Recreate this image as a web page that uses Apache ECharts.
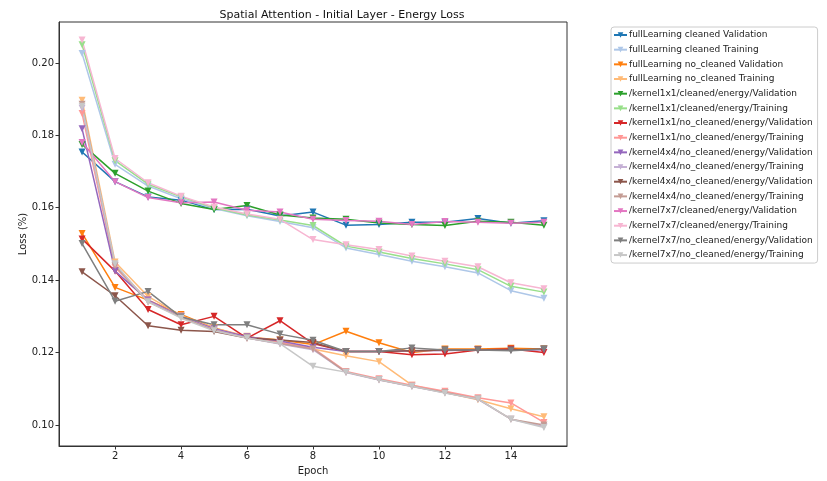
<!DOCTYPE html>
<html>
<head>
<meta charset="utf-8">
<script src="https://cdn.jsdelivr.net/npm/echarts@6/dist/echarts.min.js"></script>
<style>
  html, body { margin: 0; padding: 0; background: #fff; }
  #chart { width: 827px; height: 481px; }
</style>
</head>
<body>
<div id="chart"></div>
<script>
// Epochs along the x axis
const epochs = [1, 2, 3, 4, 5, 6, 7, 8, 9, 10, 11, 12, 13, 14, 15];
const xTicks = [2, 4, 6, 8, 10, 12, 14];
const yTicks = [0.10, 0.12, 0.14, 0.16, 0.18, 0.20];

// Loss per epoch for each run
const fullCleanedVal    = [0.1754, 0.1672, 0.1630, 0.1621, 0.1595, 0.1596, 0.1577, 0.1588, 0.1552, 0.1554, 0.1560, 0.1560, 0.1570, 0.1557, 0.1564];
const fullCleanedTrain  = [0.2026, 0.1720, 0.1660, 0.1625, 0.1598, 0.1578, 0.1562, 0.1545, 0.1489, 0.1471, 0.1452, 0.1437, 0.1420, 0.1371, 0.1350];
const fullNoCleanVal    = [0.1529, 0.1380, 0.1345, 0.1305, 0.1268, 0.1243, 0.1235, 0.1222, 0.1259, 0.1227, 0.1200, 0.1210, 0.1210, 0.1212, 0.1210];
const fullNoCleanTrain  = [0.1897, 0.1450, 0.1355, 0.1302, 0.1268, 0.1245, 0.1228, 0.1210, 0.1191, 0.1175, 0.1110, 0.1090, 0.1070, 0.1045, 0.1023];
const k1CleanedVal      = [0.1775, 0.1695, 0.1646, 0.1612, 0.1595, 0.1606, 0.1580, 0.1572, 0.1568, 0.1558, 0.1554, 0.1551, 0.1563, 0.1560, 0.1552];
const k1CleanedTrain    = [0.2050, 0.1730, 0.1665, 0.1630, 0.1600, 0.1580, 0.1566, 0.1551, 0.1494, 0.1478, 0.1460, 0.1445, 0.1429, 0.1383, 0.1367];
const k1NoCleanVal      = [0.1514, 0.1425, 0.1319, 0.1277, 0.1300, 0.1240, 0.1288, 0.1225, 0.1203, 0.1203, 0.1194, 0.1196, 0.1207, 0.1210, 0.1200];
const k1NoCleanTrain    = [0.1860, 0.1435, 0.1345, 0.1300, 0.1265, 0.1242, 0.1228, 0.1212, 0.1148, 0.1128, 0.1110, 0.1093, 0.1075, 0.1061, 0.1007];
const k4aNoCleanVal     = [0.1818, 0.1425, 0.1345, 0.1300, 0.1266, 0.1244, 0.1232, 0.1215, 0.1203, 0.1203, 0.1205, 0.1206, 0.1207, 0.1207, 0.1208];
const k4aNoCleanTrain   = [0.1875, 0.1442, 0.1342, 0.1298, 0.1263, 0.1240, 0.1224, 0.1208, 0.1145, 0.1124, 0.1106, 0.1089, 0.1071, 0.1016, 0.0996];
const k4bNoCleanVal     = [0.1423, 0.1357, 0.1274, 0.1262, 0.1258, 0.1240, 0.1235, 0.1228, 0.1203, 0.1203, 0.1205, 0.1207, 0.1207, 0.1207, 0.1210];
const k4bNoCleanTrain   = [0.1886, 0.1440, 0.1340, 0.1298, 0.1262, 0.1240, 0.1225, 0.1210, 0.1146, 0.1125, 0.1107, 0.1090, 0.1072, 0.1016, 0.1000];
const k7CleanedVal      = [0.1780, 0.1672, 0.1628, 0.1614, 0.1616, 0.1593, 0.1588, 0.1568, 0.1565, 0.1563, 0.1554, 0.1562, 0.1560, 0.1557, 0.1560];
const k7CleanedTrain    = [0.2063, 0.1736, 0.1669, 0.1632, 0.1602, 0.1583, 0.1568, 0.1512, 0.1498, 0.1485, 0.1467, 0.1452, 0.1437, 0.1393, 0.1376];
const k7NoCleanVal      = [0.1501, 0.1342, 0.1369, 0.1298, 0.1277, 0.1277, 0.1251, 0.1234, 0.1203, 0.1203, 0.1213, 0.1207, 0.1207, 0.1205, 0.1210];
const k7NoCleanTrain    = [0.1880, 0.1445, 0.1340, 0.1295, 0.1260, 0.1240, 0.1225, 0.1162, 0.1146, 0.1125, 0.1107, 0.1088, 0.1072, 0.1016, 0.0993];

const runs = [
  ['fullLearning cleaned Validation', fullCleanedVal, '#1f77b4'],
  ['fullLearning cleaned Training', fullCleanedTrain, '#aec7e8'],
  ['fullLearning no_cleaned Validation', fullNoCleanVal, '#ff7f0e'],
  ['fullLearning no_cleaned Training', fullNoCleanTrain, '#ffbb78'],
  ['/kernel1x1/cleaned/energy/Validation', k1CleanedVal, '#2ca02c'],
  ['/kernel1x1/cleaned/energy/Training', k1CleanedTrain, '#98df8a'],
  ['/kernel1x1/no_cleaned/energy/Validation', k1NoCleanVal, '#d62728'],
  ['/kernel1x1/no_cleaned/energy/Training', k1NoCleanTrain, '#ff9896'],
  ['/kernel4x4/no_cleaned/energy/Validation', k4aNoCleanVal, '#9467bd'],
  ['/kernel4x4/no_cleaned/energy/Training', k4aNoCleanTrain, '#c5b0d5'],
  ['/kernel4x4/no_cleaned/energy/Validation ', k4bNoCleanVal, '#8c564b'],
  ['/kernel4x4/no_cleaned/energy/Training ', k4bNoCleanTrain, '#c49c94'],
  ['/kernel7x7/cleaned/energy/Validation', k7CleanedVal, '#e377c2'],
  ['/kernel7x7/cleaned/energy/Training', k7CleanedTrain, '#f7b6d2'],
  ['/kernel7x7/no_cleaned/energy/Validation', k7NoCleanVal, '#7f7f7f'],
  ['/kernel7x7/no_cleaned/energy/Training', k7NoCleanTrain, '#c7c7c7']
];

const FONT = 'DejaVu Sans';
const chart = echarts.init(document.getElementById('chart'), null, { renderer: 'canvas' });

const series = runs.map(([name, values, color]) => ({
  name: name,
  type: 'line',
  data: epochs.map((e, i) => [e, values[i]]),
  symbol: 'triangle',
  symbolRotate: 180,
  symbolSize: 7,
  showSymbol: true,
  lineStyle: { width: 1.5, color: color },
  itemStyle: { color: color },
  emphasis: { disabled: true },
  animation: false
}));

chart.setOption({
  animation: false,
  backgroundColor: '#ffffff',
  title: {
    text: 'Spatial Attention - Initial Layer - Energy Loss',
    left: 337, top: 5, textAlign: 'center',
    textStyle: { fontFamily: FONT, fontSize: 11, fontWeight: 'normal', color: '#111' }
  },
  grid: {
    left: 59, right: 260, top: 22, bottom: 34,
    show: true, borderColor: '#333', borderWidth: 1, backgroundColor: 'transparent'
  },
  legend: {
    orient: 'vertical',
    left: 611, top: 27,
    itemWidth: 13, itemHeight: 7, itemGap: 4.67,
    padding: [3, 5, 3, 2],
    borderColor: '#cccccc', borderWidth: 1, borderRadius: 3,
    backgroundColor: '#fff',
    textStyle: { fontFamily: FONT, fontSize: 9, lineHeight: 10, color: '#222', padding: [0, 0, 0, -3] },
    data: runs.map(r => r[0]),
    formatter: n => n.trim()
  },
  xAxis: {
    type: 'value', min: 0.3, max: 15.7,
    name: 'Epoch', nameLocation: 'middle', nameGap: 20, nameMoveOverlap: false,
    nameTextStyle: { fontFamily: FONT, fontSize: 10, color: '#222' },
    axisLine: { show: true, onZero: false, lineStyle: { color: '#333' } },
    axisTick: { show: true, inside: false, length: 3.5, lineStyle: { color: '#333' }, customValues: xTicks },
    axisLabel: { fontFamily: FONT, fontSize: 10, color: '#222', margin: 5, customValues: xTicks },
    splitLine: { show: false }
  },
  yAxis: {
    type: 'value', min: 0.0942, max: 0.2113,
    name: 'Loss (%)', nameLocation: 'middle', nameGap: 31, nameRotate: 90, nameMoveOverlap: false,
    nameTextStyle: { fontFamily: FONT, fontSize: 10, color: '#222' },
    axisLine: { show: true, onZero: false, lineStyle: { color: '#333' } },
    axisTick: { show: true, inside: false, length: 3.5, lineStyle: { color: '#333' }, customValues: yTicks },
    axisLabel: { fontFamily: FONT, fontSize: 10, color: '#222', margin: 5, customValues: yTicks,
      formatter: v => v.toFixed(2) },
    splitLine: { show: false }
  },
  series: series
});
</script>
</body>
</html>
